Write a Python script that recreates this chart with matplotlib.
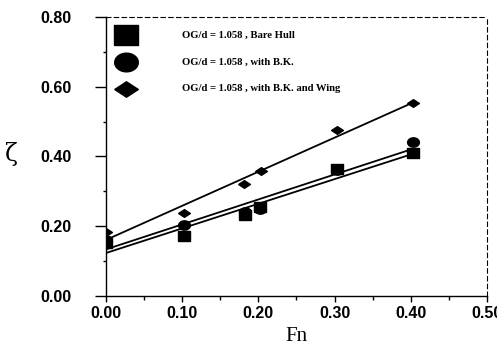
import numpy as np
import matplotlib
matplotlib.use("Agg")
import matplotlib.pyplot as plt
from matplotlib.ticker import MultipleLocator, FormatStrFormatter

# ---- data ----
labels = ["OG/d = 1.058 , Bare Hull",
          "OG/d = 1.058 , with B.K.",
          "OG/d = 1.058 , with B.K. and Wing"]
fn_bare = [0.0, 0.102, 0.182, 0.202, 0.303, 0.403]
z_bare = [0.151, 0.171, 0.231, 0.254, 0.363, 0.409]
fn_bk = [0.0, 0.102, 0.182, 0.202, 0.303, 0.403]
z_bk = [0.160, 0.203, 0.240, 0.250, 0.360, 0.440]
fn_wing = [0.0, 0.102, 0.181, 0.203, 0.303, 0.403]
z_wing = [0.183, 0.237, 0.320, 0.357, 0.477, 0.554]
xticks = [0.0, 0.1, 0.2, 0.3, 0.4, 0.5]
yticks = [0.0, 0.2, 0.4, 0.6, 0.8]

# marker shapes (slightly wide, like the scanned original)
sq = [(-1.2, -1), (1.2, -1), (1.2, 1), (-1.2, 1), (-1.2, -1)]
t = np.linspace(0, 2 * np.pi, 40)
ell = list(zip(1.2 * np.cos(t), 0.95 * np.sin(t)))
dia = [(-1.3, 0), (0, 0.85), (1.3, 0), (0, -0.85), (-1.3, 0)]

fig = plt.figure(figsize=(4.97, 3.46), dpi=100)
ax = fig.add_axes([0.213, 0.145, 0.767, 0.806])

series = [(fn_bk, z_bk, ell), (fn_bare, z_bare, sq), (fn_wing, z_wing, dia)]
for xs, ys, mk in series:
    xs = np.array(xs); ys = np.array(ys)
    c = np.polyfit(xs, ys, 1)
    xl = np.array([xs.min(), xs.max()])
    ax.plot(xl, np.polyval(c, xl), color="black", lw=1.3, zorder=2)
for xs, ys, mk in series:
    ax.plot(xs, ys, linestyle="none", marker=mk, ms=8.5, color="black", zorder=3)

# manual legend
leg_marks = [sq, ell, dia]
leg_y = [0.936, 0.839, 0.743]
for lab, mk, yy in zip(labels, leg_marks, leg_y):
    ax.plot([0.052], [yy], transform=ax.transAxes, marker=mk, ms=17,
            color="black", linestyle="none", clip_on=False)
    ax.text(0.2, yy, lab, transform=ax.transAxes, va="center", ha="left",
            fontsize=7.7, fontweight="bold", family="Liberation Serif")

ax.set_xlim(0, 0.5)
ax.set_ylim(0, 0.8)
ax.set_xticks(xticks)
ax.set_yticks(yticks)
ax.xaxis.set_major_formatter(FormatStrFormatter("%.2f"))
ax.yaxis.set_major_formatter(FormatStrFormatter("%.2f"))
ax.xaxis.set_minor_locator(MultipleLocator(0.05))
ax.yaxis.set_minor_locator(MultipleLocator(0.1))
ax.tick_params(axis="x", which="major", direction="out", length=4.3, width=1,
               pad=3, labelsize=11.5)
ax.tick_params(axis="x", which="minor", direction="out", length=3, width=1)
ax.tick_params(axis="y", which="major", direction="out", length=8, width=1,
               pad=16.5, labelsize=11.5)
ax.tick_params(axis="y", which="minor", direction="out", length=2.5, width=1)
for lab in ax.get_xticklabels() + ax.get_yticklabels():
    lab.set_family("Liberation Sans")
    lab.set_fontweight("bold")

for s in ["top", "right"]:
    ax.spines[s].set_linestyle((0, (4, 3)))
    ax.spines[s].set_linewidth(0.8)
for s in ["left", "bottom"]:
    ax.spines[s].set_linewidth(1.0)

ax.set_xlabel("Fn", family="Liberation Serif", fontsize=15, labelpad=4)
fig.text(0.024, 0.555, "ζ", fontsize=17, family="DejaVu Serif",
         ha="center", va="center")

fig.savefig("out.png", dpi=100)
